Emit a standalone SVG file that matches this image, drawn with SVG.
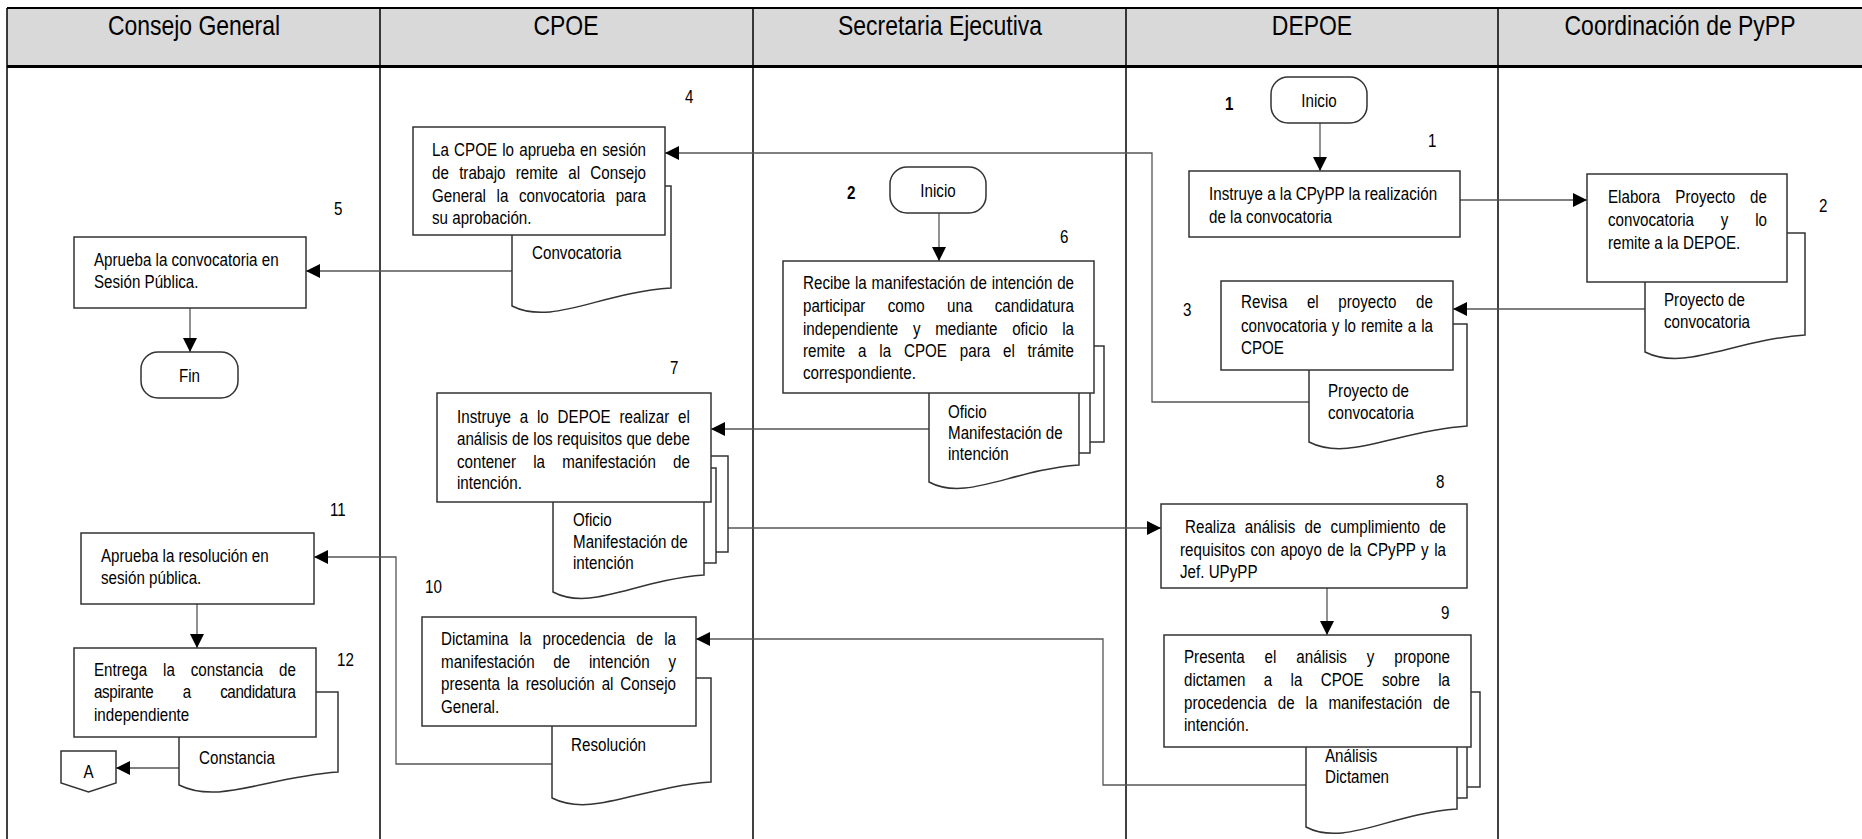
<svg xmlns="http://www.w3.org/2000/svg" width="1862" height="839" viewBox="0 0 1862 839">
<defs>
<style>
.lane{fill:none;stroke:#000;stroke-width:1.5}
.hd{fill:#d9d9d9;stroke:none}
.box{fill:#fff;stroke:#333;stroke-width:1.5}
.c{fill:none;stroke:#555;stroke-width:1.3}
.t{font-family:"Liberation Sans",Arial,sans-serif;font-size:18.5px;fill:#000}
.h{font-family:"Liberation Sans",Arial,sans-serif;font-size:28px;fill:#000;text-anchor:middle}
.m{text-anchor:middle}
.b{font-weight:bold}
</style>
<marker id="ah" markerUnits="userSpaceOnUse" markerWidth="15" markerHeight="14" refX="14" refY="7" orient="auto">
<path d="M0,0 L14,7 L0,14 z" fill="#000"/>
</marker>
</defs>
<rect width="1862" height="839" fill="#fff"/>
<g id="lanes">
<rect class="hd" x="7" y="8" width="1855" height="58"/>
<line class="lane" x1="7" y1="8" x2="1862" y2="8" style="stroke-width:2"/>
<line class="lane" x1="7" y1="66.5" x2="1862" y2="66.5" style="stroke-width:3"/>
<line class="lane" x1="7" y1="8" x2="7" y2="839"/>
<line class="lane" x1="380" y1="8" x2="380" y2="839"/>
<line class="lane" x1="753" y1="8" x2="753" y2="839"/>
<line class="lane" x1="1126" y1="8" x2="1126" y2="839"/>
<line class="lane" x1="1498" y1="8" x2="1498" y2="839"/>
<text class="h" transform="translate(194,35) scale(.82,1)">Consejo General</text>
<text class="h" transform="translate(566,35) scale(.82,1)">CPOE</text>
<text class="h" transform="translate(940,35) scale(.82,1)">Secretaria Ejecutiva</text>
<text class="h" transform="translate(1312,35) scale(.82,1)">DEPOE</text>
<text class="h" transform="translate(1680,35) scale(.82,1)">Coordinación de PyPP</text>
</g>
<g id="connectors">
<path class="c" d="M1320,123 V171" marker-end="url(#ah)"/>
<path class="c" d="M1460,200 H1587" marker-end="url(#ah)"/>
<path class="c" d="M1645,309 H1453" marker-end="url(#ah)"/>
<path class="c" d="M1309,402 H1152 V153 H665" marker-end="url(#ah)"/>
<path class="c" d="M512,271 H306" marker-end="url(#ah)"/>
<path class="c" d="M190,308 V352" marker-end="url(#ah)"/>
<path class="c" d="M939,213 V261" marker-end="url(#ah)"/>
<path class="c" d="M929,429 H711" marker-end="url(#ah)"/>
<path class="c" d="M728,528 H1161" marker-end="url(#ah)"/>
<path class="c" d="M1327,588 V635" marker-end="url(#ah)"/>
<path class="c" d="M1306,785 H1103 V639 H696" marker-end="url(#ah)"/>
<path class="c" d="M552,764 H396 V557 H314" marker-end="url(#ah)"/>
<path class="c" d="M197,604 V648" marker-end="url(#ah)"/>
<path class="c" d="M179,768 H116" marker-end="url(#ah)"/>
</g>
<g id="n1start">
<rect class="box" x="1271" y="77" width="96" height="46" rx="17"/>
<text class="t m" transform="translate(1319,107) scale(.82,1)">Inicio</text>
<text class="t b" transform="translate(1225,110) scale(.82,1)">1</text>
</g>
<g id="n1">
<rect class="box" x="1189" y="171" width="271" height="66"/>
<text class="t" transform="translate(1209,200) scale(.82,1)">Instruye a la CPyPP la realización</text>
<text class="t" transform="translate(1209,223) scale(.82,1)">de la convocatoria</text>
<text class="t" transform="translate(1428,147) scale(.82,1)">1</text>
</g>
<g id="n2">
<path class="box" d="M1645,233 H1805 V335 C1733,340 1685,372 1645,352 Z"/>
<text class="t" transform="translate(1664,306) scale(.82,1)">Proyecto de</text>
<text class="t" transform="translate(1664,328) scale(.82,1)">convocatoria</text>
<rect class="box" x="1587" y="174" width="200" height="108"/>
<text class="t" transform="translate(1608,203) scale(.82,1)" style="word-spacing:13.1px" textLength="193.9" lengthAdjust="spacing">Elabora Proyecto de</text>
<text class="t" transform="translate(1608,226) scale(.82,1)" style="word-spacing:27.5px" textLength="193.9" lengthAdjust="spacing">convocatoria y lo</text>
<text class="t" transform="translate(1608,249) scale(.82,1)">remite a la DEPOE.</text>
<text class="t" transform="translate(1819,212) scale(.82,1)">2</text>
</g>
<g id="n3">
<path class="box" d="M1309,324 H1467 V426 C1396,431 1348,462 1309,442 Z"/>
<text class="t" transform="translate(1328,397) scale(.82,1)">Proyecto de</text>
<text class="t" transform="translate(1328,419) scale(.82,1)">convocatoria</text>
<rect class="box" x="1221" y="281" width="232" height="89"/>
<text class="t" transform="translate(1241,308) scale(.82,1)" style="word-spacing:18.7px" textLength="234.1" lengthAdjust="spacing">Revisa el proyecto de</text>
<text class="t" transform="translate(1241,332) scale(.82,1)" style="word-spacing:0.8px" textLength="234.1" lengthAdjust="spacing">convocatoria y lo remite a la</text>
<text class="t" transform="translate(1241,354) scale(.82,1)">CPOE</text>
<text class="t" transform="translate(1183,316) scale(.82,1)">3</text>
</g>
<g id="n4">
<path class="box" d="M512,186 H671 V288 C599,293 552,326 512,306 Z"/>
<text class="t" transform="translate(532,259) scale(.82,1)">Convocatoria</text>
<rect class="box" x="413" y="127" width="252" height="108"/>
<text class="t" transform="translate(432,156) scale(.82,1)" style="word-spacing:1.2px" textLength="261" lengthAdjust="spacing">La CPOE lo aprueba en sesión</text>
<text class="t" transform="translate(432,179) scale(.82,1)" style="word-spacing:7.4px" textLength="261" lengthAdjust="spacing">de trabajo remite al Consejo</text>
<text class="t" transform="translate(432,202) scale(.82,1)" style="word-spacing:7.8px" textLength="261" lengthAdjust="spacing">General la convocatoria para</text>
<text class="t" transform="translate(432,224) scale(.82,1)">su aprobación.</text>
<text class="t" transform="translate(685,103) scale(.82,1)">4</text>
</g>
<g id="n5">
<rect class="box" x="74" y="237" width="232" height="71"/>
<text class="t" transform="translate(94,266) scale(.82,1)">Aprueba la convocatoria en</text>
<text class="t" transform="translate(94,288) scale(.82,1)">Sesión Pública.</text>
<text class="t" transform="translate(334,215) scale(.82,1)">5</text>
</g>
<g id="nfin">
<rect class="box" x="141" y="352" width="97" height="46" rx="17"/>
<text class="t m" transform="translate(189.5,382) scale(.82,1)">Fin</text>
</g>
<g id="n2start">
<rect class="box" x="890" y="167" width="96" height="46" rx="17"/>
<text class="t m" transform="translate(938,197) scale(.82,1)">Inicio</text>
<text class="t b" transform="translate(847,199) scale(.82,1)">2</text>
</g>
<g id="n6">
<rect class="box" x="950" y="346" width="154" height="96"/>
<rect class="box" x="940" y="356" width="150" height="97"/>
<path class="box" d="M929,380 H1079 V465 C1011,470 966,502 929,482 Z"/>
<text class="t" transform="translate(948,418) scale(.82,1)">Oficio</text>
<text class="t" transform="translate(948,439) scale(.82,1)">Manifestación de</text>
<text class="t" transform="translate(948,460) scale(.82,1)">intención</text>
<rect class="box" x="783" y="261" width="311" height="132"/>
<text class="t" transform="translate(803,289) scale(.82,1)" style="word-spacing:0.7px" textLength="330.5" lengthAdjust="spacing">Recibe la manifestación de intención de</text>
<text class="t" transform="translate(803,312) scale(.82,1)" style="word-spacing:22.1px" textLength="330.5" lengthAdjust="spacing">participar como una candidatura</text>
<text class="t" transform="translate(803,335) scale(.82,1)" style="word-spacing:12.7px" textLength="330.5" lengthAdjust="spacing">independiente y mediante oficio la</text>
<text class="t" transform="translate(803,357) scale(.82,1)" style="word-spacing:10.5px" textLength="330.5" lengthAdjust="spacing">remite a la CPOE para el trámite</text>
<text class="t" transform="translate(803,379) scale(.82,1)">correspondiente.</text>
<text class="t" transform="translate(1060,243) scale(.82,1)">6</text>
</g>
<g id="n7">
<rect class="box" x="577" y="456" width="151" height="96"/>
<rect class="box" x="565" y="468" width="151" height="95"/>
<path class="box" d="M553,480 H704 V575 C636,580 591,612 553,592 Z"/>
<text class="t" transform="translate(573,526) scale(.82,1)">Oficio</text>
<text class="t" transform="translate(573,548) scale(.82,1)">Manifestación de</text>
<text class="t" transform="translate(573,569) scale(.82,1)">intención</text>
<rect class="box" x="437" y="393" width="274" height="109"/>
<text class="t" transform="translate(457,423) scale(.82,1)" style="word-spacing:5.6px" textLength="284" lengthAdjust="spacing">Instruye a lo DEPOE realizar el</text>
<text class="t" transform="translate(457,445) scale(.82,1)" style="word-spacing:0.2px" textLength="284" lengthAdjust="spacing">análisis de los requisitos que debe</text>
<text class="t" transform="translate(457,468) scale(.82,1)" style="word-spacing:15.8px" textLength="284" lengthAdjust="spacing">contener la manifestación de</text>
<text class="t" transform="translate(457,489) scale(.82,1)">intención.</text>
<text class="t" transform="translate(670,374) scale(.82,1)">7</text>
</g>
<g id="n8">
<rect class="box" x="1161" y="504" width="306" height="84"/>
<text class="t" transform="translate(1185,533) scale(.82,1)" style="word-spacing:6.1px" textLength="318.3" lengthAdjust="spacing">Realiza análisis de cumplimiento de</text>
<text class="t" transform="translate(1180,556) scale(.82,1)" style="word-spacing:1.5px" textLength="324.4" lengthAdjust="spacing">requisitos con apoyo de la CPyPP y la</text>
<text class="t" transform="translate(1180,578) scale(.82,1)">Jef. UPyPP</text>
<text class="t" transform="translate(1436,488) scale(.82,1)">8</text>
</g>
<g id="n9">
<rect class="box" x="1330" y="692" width="150" height="95"/>
<rect class="box" x="1318" y="704" width="149" height="94"/>
<path class="box" d="M1306,720 H1457 V809 C1389,814 1344,847 1306,827 Z"/>
<text class="t" transform="translate(1325,762) scale(.82,1)">Análisis</text>
<text class="t" transform="translate(1325,783) scale(.82,1)">Dictamen</text>
<rect class="box" x="1164" y="635" width="307" height="112"/>
<text class="t" transform="translate(1184,663) scale(.82,1)" style="word-spacing:19.1px" textLength="324.4" lengthAdjust="spacing">Presenta el análisis y propone</text>
<text class="t" transform="translate(1184,686) scale(.82,1)" style="word-spacing:17.2px" textLength="324.4" lengthAdjust="spacing">dictamen a la CPOE sobre la</text>
<text class="t" transform="translate(1184,709) scale(.82,1)" style="word-spacing:8.3px" textLength="324.4" lengthAdjust="spacing">procedencia de la manifestación de</text>
<text class="t" transform="translate(1184,731) scale(.82,1)">intención.</text>
<text class="t" transform="translate(1441,619) scale(.82,1)">9</text>
</g>
<g id="n10">
<path class="box" d="M552,678 H711 V782 C639,787 592,818 552,798 Z"/>
<text class="t" transform="translate(571,751) scale(.82,1)">Resolución</text>
<rect class="box" x="422" y="617" width="274" height="109"/>
<text class="t" transform="translate(441,645) scale(.82,1)" style="word-spacing:8.4px" textLength="286.6" lengthAdjust="spacing">Dictamina la procedencia de la</text>
<text class="t" transform="translate(441,668) scale(.82,1)" style="word-spacing:17.7px" textLength="286.6" lengthAdjust="spacing">manifestación de intención y</text>
<text class="t" transform="translate(441,690) scale(.82,1)" style="word-spacing:3.3px" textLength="286.6" lengthAdjust="spacing">presenta la resolución al Consejo</text>
<text class="t" transform="translate(441,713) scale(.82,1)">General.</text>
<text class="t" transform="translate(425,593) scale(.82,1)">10</text>
</g>
<g id="n11">
<rect class="box" x="81" y="533" width="233" height="71"/>
<text class="t" transform="translate(101,562) scale(.82,1)">Aprueba la resolución en</text>
<text class="t" transform="translate(101,584) scale(.82,1)">sesión pública.</text>
<text class="t" transform="translate(330,516) scale(.82,1)">11</text>
</g>
<g id="n12">
<path class="box" d="M179,692 H338 V772 C266,777 219,805 179,785 Z"/>
<text class="t" transform="translate(199,764) scale(.82,1)">Constancia</text>
<rect class="box" x="74" y="648" width="242" height="89"/>
<text class="t" transform="translate(94,676) scale(.82,1)" style="word-spacing:14.2px" textLength="246.3" lengthAdjust="spacing">Entrega la constancia de</text>
<text class="t" transform="translate(94,698) scale(.82,1)" style="word-spacing:31.1px" textLength="246.3" lengthAdjust="spacing">aspirante a candidatura</text>
<text class="t" transform="translate(94,721) scale(.82,1)">independiente</text>
<text class="t" transform="translate(337,666) scale(.82,1)">12</text>
</g>
<g id="nA">
<path class="box" d="M61,751 H116 V783 L88.5,792 L61,783 Z"/>
<text class="t m" transform="translate(88.5,778) scale(.82,1)">A</text>
</g>
</svg>
